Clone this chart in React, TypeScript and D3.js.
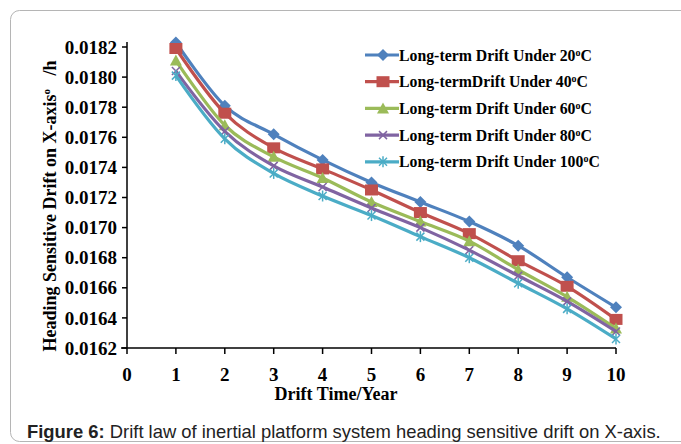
import React from "react";
import * as d3 from "d3";

const years = [1, 2, 3, 4, 5, 6, 7, 8, 9, 10];
const drift20 = [0.01823, 0.01781, 0.01762, 0.01745, 0.0173, 0.01717, 0.01704, 0.01688, 0.01667, 0.01647];
const drift40 = [0.01819, 0.01776, 0.01753, 0.01739, 0.01725, 0.0171, 0.01696, 0.01678, 0.01661, 0.01639];
const drift60 = [0.01811, 0.01768, 0.01747, 0.01733, 0.01717, 0.01704, 0.01691, 0.01672, 0.01654, 0.01633];
const drift80 = [0.01804, 0.01764, 0.01741, 0.01727, 0.01713, 0.017, 0.01685, 0.01668, 0.01651, 0.01631];
const drift100 = [0.01801, 0.01759, 0.01736, 0.01721, 0.01708, 0.01694, 0.0168, 0.01663, 0.01646, 0.01626];

const legendNames = [
  ["Long-term Drift Under 20", "C"],
  ["Long-termDrift Under 40", "C"],
  ["Long-term Drift Under 60", "C"],
  ["Long-term Drift Under 80", "C"],
  ["Long-term Drift Under 100", "C"],
];
const colors = ["#4F81BD", "#C0504D", "#9BBB59", "#8064A2", "#4BACC6"];
const markers = ["diamond", "square", "triangle", "x", "star"];
const xTicks = [0, 1, 2, 3, 4, 5, 6, 7, 8, 9, 10];
const yTicks = [0.0162, 0.0164, 0.0166, 0.0168, 0.017, 0.0172, 0.0174, 0.0176, 0.0178, 0.018, 0.0182];

const seriesList = [drift20, drift40, drift60, drift80, drift100];

const serif = "'Liberation Serif', 'Times New Roman', serif";
const sans = "'Liberation Sans', Arial, sans-serif";

function Marker({ kind, color, x, y }: { kind: string; color: string; x: number; y: number }) {
  if (kind === "diamond") {
    const r = 6;
    return <path d={`M${x},${y - r}L${x + r},${y}L${x},${y + r}L${x - r},${y}Z`} fill={color} />;
  }
  if (kind === "square") {
    return <rect x={x - 6.5} y={y - 5.5} width={13} height={11} fill={color} />;
  }
  if (kind === "triangle") {
    return <path d={`M${x},${y - 6}L${x + 6},${y + 5}L${x - 6},${y + 5}Z`} fill={color} />;
  }
  if (kind === "x") {
    const r = 4;
    return (
      <g stroke={color} strokeWidth={1.5}>
        <line x1={x - r} y1={y - r} x2={x + r} y2={y + r} />
        <line x1={x - r} y1={y + r} x2={x + r} y2={y - r} />
      </g>
    );
  }
  const r = 4;
  return (
    <g stroke={color} strokeWidth={1.5}>
      <line x1={x - r} y1={y - r} x2={x + r} y2={y + r} />
      <line x1={x - r} y1={y + r} x2={x + r} y2={y - r} />
      <line x1={x} y1={y - 5.5} x2={x} y2={y + 5.5} />
    </g>
  );
}

export default function App() {
  const x = d3.scaleLinear().domain([0, 10]).range([127, 616]);
  const y = d3.scaleLinear().domain([0.0162, 0.0182]).range([348, 47]);
  const line = d3
    .line<number>()
    .x((_, i) => x(years[i]))
    .y((d) => y(d))
    .curve(d3.curveCardinal.tension(0));

  return (
    <svg
      width={681}
      height={444}
      style={{ position: "absolute", left: 0, top: 0, background: "#fff" }}
    >
      <rect x={10.5} y={10.5} width={700} height={431} rx={9} fill="none" stroke="#b5b5b5" strokeWidth={1} />

      {/* axes */}
      <g stroke="#000" strokeWidth={1.5}>
        <line x1={x(0)} y1={y(0.0182) - 5} x2={x(0)} y2={y(0.0162)} />
        <line x1={x(0) - 6} y1={y(0.0162)} x2={x(10)} y2={y(0.0162)} />
        {yTicks.map((t) => (
          <line key={"yt" + t} x1={x(0) - 5} x2={x(0)} y1={y(t)} y2={y(t)} />
        ))}
        {xTicks.map((t) => (
          <line key={"xt" + t} x1={x(t)} x2={x(t)} y1={y(0.0162)} y2={y(0.0162) + 6} />
        ))}
      </g>
      <g fontFamily={serif} fontWeight="bold" fontSize={19} fill="#000">
        {yTicks.map((t) => (
          <text key={"yl" + t} x={117} y={y(t)} dy="0.35em" textAnchor="end">
            {t.toFixed(4)}
          </text>
        ))}
        {xTicks.map((t) => (
          <text key={"xl" + t} x={x(t)} y={381} textAnchor="middle">
            {t}
          </text>
        ))}
      </g>
      <text x={336} y={400} textAnchor="middle" fontFamily={serif} fontWeight="bold" fontSize={18}>
        Drift Time/Year
      </text>
      <text
        transform="translate(56,206) rotate(-90)"
        textAnchor="middle"
        fontFamily={serif}
        fontWeight="bold"
        fontSize={18}
      >
        Heading Sensitive Drift on X-axis
        <tspan fontSize={11} dy={-6}>o</tspan>
        <tspan dy={6}>{"\u00a0\u00a0\u00a0/h"}</tspan>
      </text>

      {/* series */}
      {seriesList.map((s, si) => (
        <g key={"s" + si}>
          <path d={line(s) || ""} fill="none" stroke={colors[si]} strokeWidth={3.2} />
          {s.map((v, i) => (
            <Marker key={i} kind={markers[si]} color={colors[si]} x={x(years[i])} y={y(v)} />
          ))}
        </g>
      ))}

      {/* legend */}
      {legendNames.map((nm, i) => {
        const ly = 55 + i * 26.7;
        return (
          <g key={"lg" + i}>
            <line x1={365} x2={399} y1={ly} y2={ly} stroke={colors[i]} strokeWidth={3.2} />
            <Marker kind={markers[i]} color={colors[i]} x={383} y={ly} />
            <text x={399} y={ly} dy="0.35em" fontFamily={serif} fontWeight="bold" fontSize={15.8}>
              {nm[0]}
              <tspan fontSize={10} dy={-5}>o</tspan>
              <tspan dy={5}>{nm[1]}</tspan>
            </text>
          </g>
        );
      })}

      <text x={27} y={438} fontFamily={sans} fontSize={18.4} fill="#222">
        <tspan fontWeight="bold">Figure 6:</tspan>
        {" Drift law of inertial platform system heading sensitive drift on X-axis."}
      </text>
    </svg>
  );
}
